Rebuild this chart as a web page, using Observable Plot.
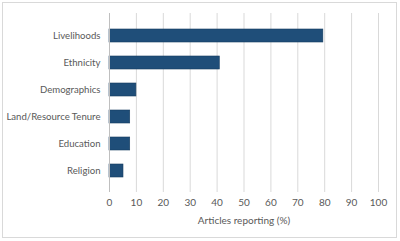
<!DOCTYPE html>
<html>
<head>
<meta charset="utf-8">
<script src="https://cdn.jsdelivr.net/npm/d3@7"></script>
<script src="https://cdn.jsdelivr.net/npm/@observablehq/plot@0.6"></script>
<style>
  html, body { margin: 0; padding: 0; background: #fff; }
  #wrap { position: relative; width: 400px; height: 241px; }
  #wrap svg { display: block; }
  #border { position: absolute; left: 2px; top: 2px; width: 393px; height: 234px;
            border: 1px solid #d9d9d9; pointer-events: none; }
</style>
</head>
<body>
<div id="wrap"><div id="border"></div></div>
<script>
// Share of articles reporting each social factor
const categories = ["Livelihoods", "Ethnicity", "Demographics", "Land/Resource Tenure", "Education", "Religion"];
const percents = [79.5, 41, 10, 7.7, 7.7, 5.2];
const xTicks = [0, 10, 20, 30, 40, 50, 60, 70, 80, 90, 100];

const rows = categories.map((c, i) => ({category: c, value: percents[i]}));
const textColor = "#595959";

const chart = Plot.plot({
  width: 400,
  height: 241,
  marginLeft: 109,
  marginRight: 22,
  marginTop: 13,
  marginBottom: 49,
  style: {fontFamily: "Lato, 'Open Sans', sans-serif", fontSize: "10px", color: textColor, background: "white"},
  x: {domain: [0, 100], ticks: xTicks},
  y: {domain: categories, padding: 0.52},
  marks: [
    Plot.gridX(xTicks, {stroke: "#d9d9d9", strokeOpacity: 1, strokeWidth: 1}),
    Plot.barX(rows, {x: "value", y: "category", fill: "#1f4e79", stroke: "#173d60", strokeWidth: 0.6}),
    Plot.axisX({ticks: xTicks, tickSize: 0, tickPadding: 6, label: "Articles reporting (%)", labelAnchor: "center", labelArrow: "none", labelOffset: 31, fill: textColor}),
    Plot.axisY({tickSize: 0, tickPadding: 9, label: null, fill: textColor, fontSize: 9.6, style: {letterSpacing: "-0.2px"}}),
    Plot.ruleX([0], {stroke: "#bfbfbf"})
  ]
});
document.getElementById("wrap").prepend(chart);
</script>
</body>
</html>
